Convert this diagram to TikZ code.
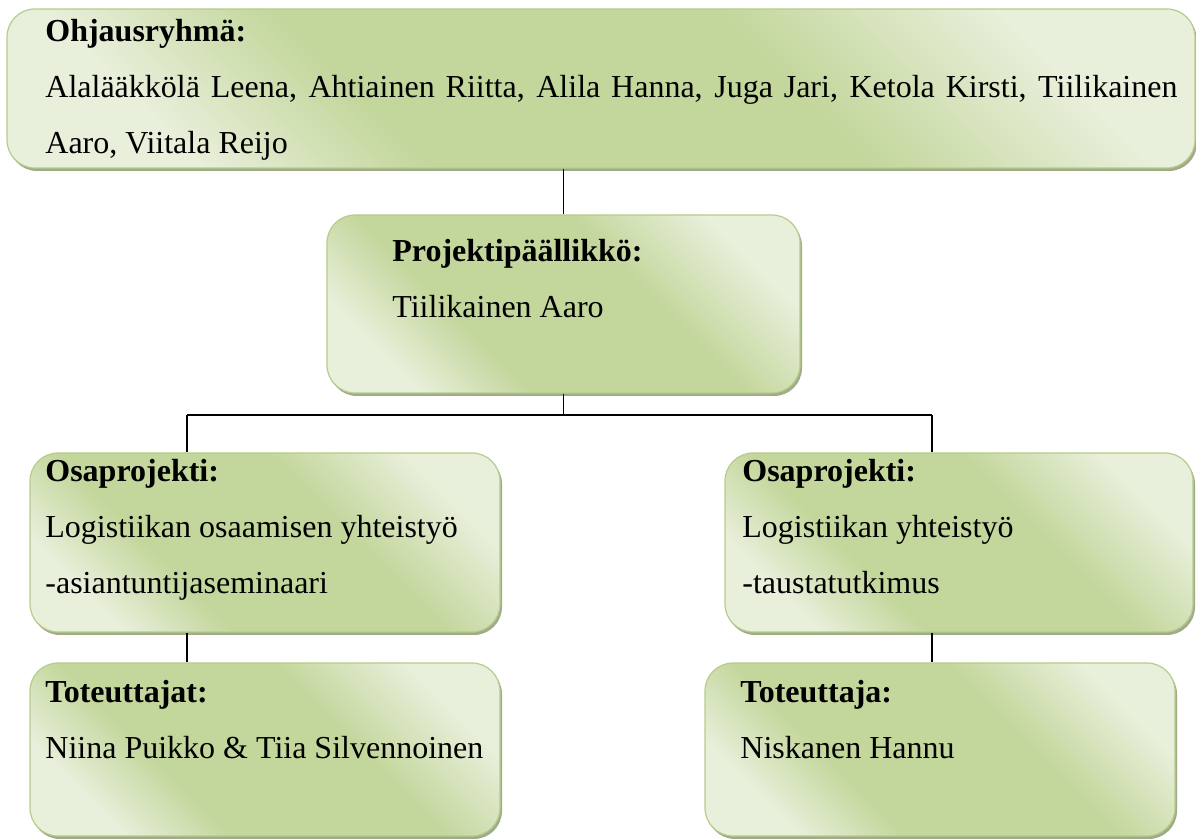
\documentclass[tikz,border=0pt]{standalone}
\usepackage{fontspec}
\setmainfont{Liberation Serif}
\usetikzlibrary{shadows}
\definecolor{oliv}{HTML}{C3D69B}
\definecolor{olivlight}{HTML}{E8EFDA}
\definecolor{olivline}{HTML}{B7CC8A}
\definecolor{olivshadow}{HTML}{A0AB8A}
\pgfdeclareverticalshading{olivshade}{100bp}{color(0bp)=(olivlight); color(25bp)=(olivlight);
  color(37bp)=(oliv); color(60bp)=(oliv); color(75bp)=(olivlight); color(100bp)=(olivlight)}
\newcommand{\boxtext}[1]{\fontsize{16}{28}\selectfont\begin{tabular}[t]{@{}l@{}}#1\end{tabular}}

\begin{document}
\begin{tikzpicture}
  [x=.5pt,y=-.5pt,
   box/.style={rectangle,rounded corners=14pt,draw=olivline,line width=.6pt,
     shading=olivshade,shading angle=-45,
     drop shadow={shadow xshift=1pt,shadow yshift=-1.5pt,fill=olivshadow,opacity=1}},
   txt/.style={anchor=base west,inner sep=0pt}]
  \useasboundingbox (0,0) rectangle (1196,839);
  \node[box,minimum width=594pt,minimum height=79.5pt] (ohj) at (601,88.5) {};
  \node[box,minimum width=236.5pt,minimum height=89pt] (proj) at (563.5,304) {};
  \node[box,minimum width=235pt,minimum height=89.5pt] (osa1) at (265,542.5) {};
  \node[box,minimum width=234pt,minimum height=89.5pt] (osa2) at (959,542.5) {};
  \node[box,minimum width=235pt,minimum height=86.5pt] (tot1) at (265,749.5) {};
  \node[box,minimum width=235pt,minimum height=86.5pt] (tot2) at (940,749.5) {};

  \node[txt] (ohjt) at (45,42) {\boxtext{\textbf{Ohjausryhmä:}\\
    \makebox[566pt][s]{Alalääkkölä Leena, Ahtiainen Riitta, Alila Hanna, Juga Jari, Ketola Kirsti, Tiilikainen}\\
    Aaro, Viitala Reijo}};
  \node[txt] (projt) at (392,262) {\boxtext{\textbf{Projektipäällikkö:}\\ Tiilikainen Aaro}};
  \node[txt] (osa1t) at (45,482) {\boxtext{\textbf{Osaprojekti:}\\ Logistiikan osaamisen yhteistyö\\ -asiantuntijaseminaari}};
  \node[txt] (osa2t) at (742,482) {\boxtext{\textbf{Osaprojekti:}\\ Logistiikan yhteistyö\\ -taustatutkimus}};
  \node[txt] (tot1t) at (45,703) {\boxtext{\textbf{Toteuttajat:}\\ Niina Puikko \& Tiia Silvennoinen}};
  \node[txt] (tot2t) at (740,703) {\boxtext{\textbf{Toteuttaja:}\\ Niskanen Hannu}};

  \coordinate (bus) at (563.5,415);
  \coordinate (busl) at (187,415);
  \coordinate (busr) at (932,415);
 \path[draw,line width=.75pt]
        (ohj.south -| proj.north) edge (proj.north)
        (proj.south) edge (bus)
        (busl) edge (busr)
        (busl) edge (busl |- osa1.north)
        (busr) edge (busr |- osa2.north)
        (osa1.south -| busl) edge (tot1.north -| busl)
        (osa2.south -| busr) edge (tot2.north -| busr);

\end{tikzpicture}
\end{document}
